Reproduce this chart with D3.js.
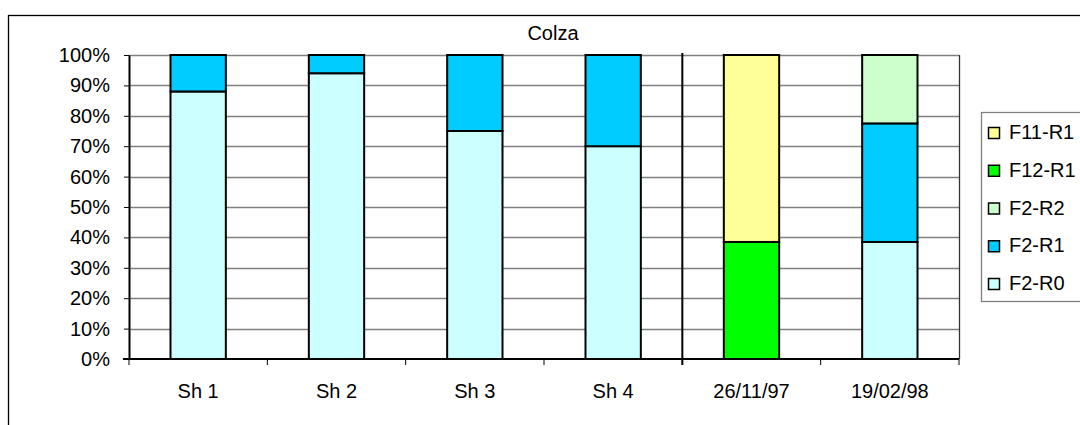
<!DOCTYPE html>
<html>
<head>
<meta charset="utf-8">
<script src="https://cdn.jsdelivr.net/npm/d3@7"></script>
<style>
  html, body { margin: 0; padding: 0; background: #fff; }
  svg { display: block; font-family: "Liberation Sans", Arial, sans-serif; }
</style>
</head>
<body>
<svg id="chart" width="1080" height="425"></svg>
<script>
// Categories along the x axis
const categories = ["Sh 1", "Sh 2", "Sh 3", "Sh 4", "26/11/97", "19/02/98"];

// Series shares (%) per category, stacked bottom to top
const seriesNames = ["F2-R0", "F2-R1", "F2-R2", "F12-R1", "F11-R1"];
const f2r0  = [88, 94, 75, 70, 0, 38.5];
const f2r1  = [12, 6, 25, 30, 0, 39];
const f2r2  = [0, 0, 0, 0, 0, 22.5];
const f12r1 = [0, 0, 0, 0, 38.5, 0];
const f11r1 = [0, 0, 0, 0, 61.5, 0];

const yTicks = [0, 10, 20, 30, 40, 50, 60, 70, 80, 90, 100];
const title = "Colza";

const colors = {
  "F2-R0": "#CCFFFF",
  "F2-R1": "#00CCFF",
  "F2-R2": "#CCFFCC",
  "F12-R1": "#00FF00",
  "F11-R1": "#FFFF99"
};

const rows = categories.map((c, i) => ({
  cat: c,
  "F2-R0": f2r0[i], "F2-R1": f2r1[i], "F2-R2": f2r2[i],
  "F12-R1": f12r1[i], "F11-R1": f11r1[i]
}));

const FONT = "20px";
const svg = d3.select("#chart");
const plot = { left: 129, right: 959, top: 55, bottom: 359 };

// outer frame
svg.append("rect")
  .attr("x", 8.5).attr("y", 15.5)
  .attr("width", 1200).attr("height", 500)
  .attr("fill", "#fff").attr("stroke", "#000").attr("stroke-width", 1.3);

const x = d3.scaleBand().domain(categories)
  .range([plot.left, plot.right]).paddingInner(0.6).paddingOuter(0.3);
const xOuter = d3.scaleBand().domain(categories).range([plot.left, plot.right]);
const y = d3.scaleLinear().domain([0, 100]).range([plot.bottom, plot.top]);

// gridlines
svg.append("g").selectAll("line").data(yTicks.slice(1))
  .join("line")
  .attr("x1", plot.left).attr("x2", plot.right)
  .attr("y1", d => Math.round(y(d)) + 0.5).attr("y2", d => Math.round(y(d)) + 0.5)
  .attr("stroke", "#808080").attr("stroke-width", 1.3);

// plot area right edge
svg.append("line")
  .attr("x1", plot.right + 0.5).attr("x2", plot.right + 0.5)
  .attr("y1", plot.top).attr("y2", plot.bottom)
  .attr("stroke", "#333").attr("stroke-width", 1.3);

// stacked bars
const stack = d3.stack().keys(seriesNames)(rows);
svg.append("g").selectAll("g").data(stack).join("g")
  .attr("fill", d => colors[d.key])
  .selectAll("rect").data(d => d.filter(p => p[1] - p[0] > 0))
  .join("rect")
  .attr("x", d => x(d.data.cat))
  .attr("width", x.bandwidth())
  .attr("y", d => y(d[1]))
  .attr("height", d => y(d[0]) - y(d[1]))
  .attr("stroke", "#000").attr("stroke-width", 2);

// separator between the Sh series and the dated samples
svg.append("line")
  .attr("x1", xOuter("26/11/97")).attr("x2", xOuter("26/11/97"))
  .attr("y1", plot.top - 2).attr("y2", plot.bottom + 6)
  .attr("stroke", "#000").attr("stroke-width", 2);

// y axis
const yAxis = svg.append("g")
  .attr("transform", `translate(${plot.left},0)`)
  .call(d3.axisLeft(y).tickValues(yTicks).tickFormat(d => d + "%")
    .tickSize(5).tickSizeOuter(0).tickPadding(14));
yAxis.select(".domain").attr("stroke", "#000").attr("stroke-width", 2);
yAxis.selectAll(".tick line").attr("stroke", "#000").attr("stroke-width", 1);
yAxis.selectAll("text").style("font-size", FONT).attr("fill", "#000")
  .style("font-family", "'Liberation Sans', Arial, sans-serif");

// x axis: category labels centred, ticks on category boundaries
const xg = svg.append("g").attr("transform", `translate(0,${plot.bottom})`);
xg.append("line")
  .attr("x1", plot.left - 6).attr("x2", plot.right)
  .attr("y1", 0).attr("y2", 0)
  .attr("stroke", "#000").attr("stroke-width", 2);
const bounds = categories.map(c => xOuter(c)).concat([plot.right]);
xg.selectAll("line.tk").data(bounds).join("line").attr("class", "tk")
  .attr("x1", d => d).attr("x2", d => d).attr("y1", 0).attr("y2", 6)
  .attr("stroke", "#000").attr("stroke-width", 1);
xg.selectAll("text").data(categories).join("text")
  .attr("x", d => xOuter(d) + xOuter.bandwidth() / 2)
  .attr("y", 39)
  .attr("text-anchor", "middle")
  .style("font-size", FONT).attr("fill", "#000")
  .text(d => d);

// title
svg.append("text")
  .attr("x", 553).attr("y", 40)
  .attr("text-anchor", "middle")
  .style("font-size", FONT).attr("fill", "#000")
  .text(title);

// legend
const legendOrder = seriesNames.slice().reverse();
const lg = svg.append("g");
lg.append("rect")
  .attr("x", 981.5).attr("y", 112.5).attr("width", 150).attr("height", 189)
  .attr("fill", "#fff").attr("stroke", "#808080").attr("stroke-width", 1.3);
const ly = d3.scalePoint().domain(legendOrder).range([133, 284]);
const items = lg.selectAll("g.item").data(legendOrder).join("g").attr("class", "item")
  .attr("transform", d => `translate(0,${ly(d)})`);
items.append("rect")
  .attr("x", 988.5).attr("y", -5.5).attr("width", 11).attr("height", 11)
  .attr("fill", d => colors[d]).attr("stroke", "#000").attr("stroke-width", 1.5);
items.append("text")
  .attr("x", 1009).attr("y", 6)
  .style("font-size", FONT).attr("fill", "#000")
  .text(d => d);
</script>
</body>
</html>
